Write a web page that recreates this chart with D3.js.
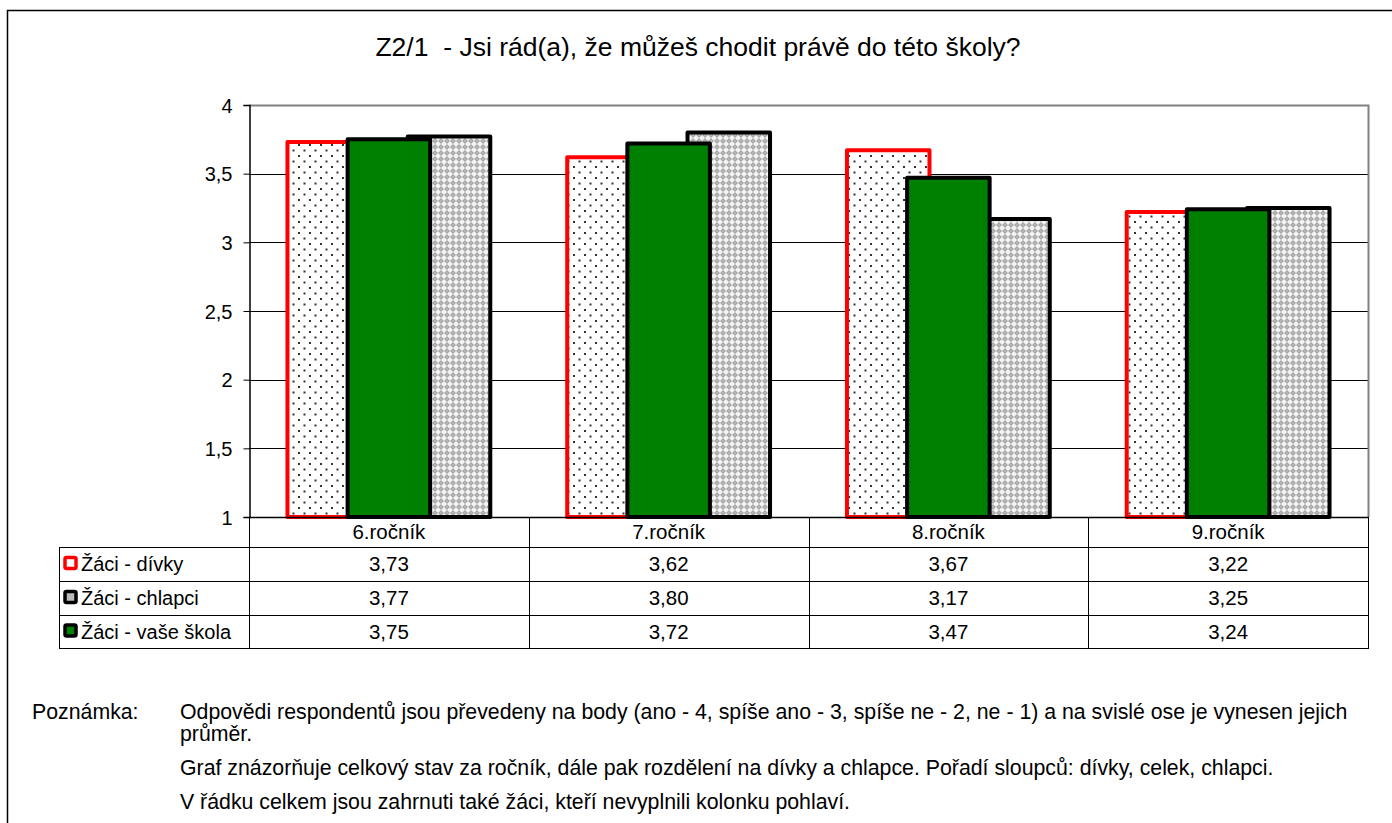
<!DOCTYPE html>
<html lang="cs">
<head>
  <meta charset="UTF-8">
  <title>Z2/1</title>
  <style>
  body { margin: 0; background: #fff; }
  svg text { font-family: Arial, "Liberation Sans", sans-serif; fill: #000; white-space: pre; }
  </style>
</head>
<body>
  <svg id="chart" width="1392" height="823"></svg>
  <script src="https://cdn.jsdelivr.net/npm/d3@7"></script>
  <script>
    // data
    const categories = ['6.ročník', '7.ročník', '8.ročník', '9.ročník'];
    const divky = [3.73, 3.62, 3.67, 3.22];
    const chlapci = [3.77, 3.80, 3.17, 3.25];
    const skola = [3.75, 3.72, 3.47, 3.24];
    const yTicks = [1, 1.5, 2, 2.5, 3, 3.5, 4];
    const title = 'Z2/1  - Jsi rád(a), že můžeš chodit právě do této školy?';

    const series = [
      {name: 'Žáci - dívky', values: divky, slot: 0, fill: 'url(#dots)', stroke: '#ff0000', icon: '#ffffff'},
      {name: 'Žáci - chlapci', values: chlapci, slot: 2, fill: 'url(#hatch)', stroke: '#000', icon: '#bbbbbb'},
      {name: 'Žáci - vaše škola', values: skola, slot: 1, fill: '#008000', stroke: '#000', icon: '#008000'},
    ];

    const svg = d3.select('#chart');
    const comma = v => d3.format('.2f')(v).replace('.', ',');

    // patterns
    const defs = svg.append('defs');
    const dots = defs.append('pattern').attr('id', 'dots')
      .attr('patternUnits', 'userSpaceOnUse').attr('width', 11).attr('height', 11);
    dots.append('rect').attr('width', 11).attr('height', 11).attr('fill', '#fff');
    dots.append('rect').attr('x', 1).attr('y', 1).attr('width', 2).attr('height', 2).attr('fill', '#333');
    dots.append('rect').attr('x', 6.5).attr('y', 6.5).attr('width', 2).attr('height', 2).attr('fill', '#333');

    const hatch = defs.append('pattern').attr('id', 'hatch')
      .attr('patternUnits', 'userSpaceOnUse').attr('width', 6).attr('height', 6);
    hatch.append('rect').attr('width', 6).attr('height', 6).attr('fill', '#f4f4f4');
    hatch.append('path').attr('d', 'M3,0L6,3L3,6L0,3Z').attr('fill', '#a8a8a8');
    hatch.append('rect').attr('x', 2.5).attr('y', 2.5).attr('width', 1).attr('height', 1).attr('fill', '#dcdcdc');

    // outer frame
    svg.append('rect').attr('x', 7.5).attr('y', 10.5).attr('width', 1400).attr('height', 830)
      .attr('fill', 'none').attr('stroke', '#000').attr('stroke-width', 1.5);

    svg.append('text').attr('x', 698).attr('y', 56).attr('text-anchor', 'middle')
      .style('font-size', '26.5px').text(title);

    const plot = {left: 249, right: 1368, top: 105, bottom: 517};
    const x = d3.scaleBand().domain(categories).range([plot.left, plot.right]);
    const y = d3.scaleLinear().domain([1, 4]).range([plot.bottom, plot.top]);
    const bw = x.bandwidth();
    const step = bw * 0.215, barW = bw * 0.295;

    // gridlines
    svg.append('g').selectAll('line').data(yTicks.filter(t => t > 1 && t < 4)).join('line')
      .attr('x1', plot.left).attr('x2', plot.right)
      .attr('y1', d => Math.round(y(d)) + 0.5).attr('y2', d => Math.round(y(d)) + 0.5)
      .attr('stroke', '#000').attr('stroke-width', 1);
    // plot border (top/right gray)
    svg.append('path')
      .attr('d', `M${plot.left},${plot.top + 0.5}H${plot.right + 0.5}V${plot.bottom}`)
      .attr('fill', 'none').attr('stroke', '#808080').attr('stroke-width', 2);

    // bars: red, gray, then green on top
    series.forEach(s => {
      svg.append('g').selectAll('rect').data(s.values).join('rect')
        .attr('x', (d, i) => x(categories[i]) + bw / 2 + (s.slot - 1) * step - barW / 2)
        .attr('y', d => y(d))
        .attr('width', barW)
        .attr('height', d => y(1) - y(d))
        .attr('fill', s.fill)
        .attr('stroke', s.stroke).attr('stroke-width', 4)
        .attr('stroke-linejoin', 'round');
    });

    // y axis
    const yAxis = d3.axisLeft(y).tickValues(yTicks).tickSize(6).tickPadding(11)
      .tickFormat(d => String(d).replace('.', ','));
    const ga = svg.append('g').attr('transform', `translate(${plot.left + 0.5},0)`).call(yAxis);
    ga.select('.domain').attr('stroke', '#000').attr('stroke-width', 1.5);
    ga.selectAll('.tick line').attr('stroke', '#000');
    ga.selectAll('.tick text').style('font-size', '20px').attr('dy', '0.35em')
      .style('font-family', 'Arial, "Liberation Sans", sans-serif');

    // data table
    const rowsY = [517, 547, 581, 615, 648];
    const tableLeft = 59;
    const tbl = svg.append('g').attr('stroke', '#000').attr('stroke-width', 1);
    rowsY.forEach((ry, i) => {
      tbl.append('line').attr('x1', i === 0 ? plot.left : tableLeft).attr('x2', plot.right + 1)
        .attr('y1', ry + 0.5).attr('y2', ry + 0.5)
        .attr('stroke-width', i === 0 ? 1.5 : 1);
    });
    tbl.append('line').attr('x1', tableLeft + 0.5).attr('x2', tableLeft + 0.5)
      .attr('y1', rowsY[1]).attr('y2', rowsY[4] + 0.5);
    categories.forEach(c => {
      tbl.append('line').attr('x1', Math.round(x(c)) + 0.5).attr('x2', Math.round(x(c)) + 0.5)
        .attr('y1', rowsY[0]).attr('y2', rowsY[4] + 0.5);
    });
    tbl.append('line').attr('x1', plot.right + 0.5).attr('x2', plot.right + 0.5)
      .attr('y1', rowsY[0]).attr('y2', rowsY[4] + 0.5);

    // category labels
    svg.append('g').selectAll('text').data(categories).join('text')
      .attr('x', d => x(d) + bw / 2).attr('y', (rowsY[0] + rowsY[1]) / 2 + 7)
      .attr('text-anchor', 'middle').style('font-size', '20.5px').text(d => d);

    // table rows: dívky, chlapci, vaše škola
    series.forEach((s, r) => {
      const cy = (rowsY[r + 1] + rowsY[r + 2]) / 2;
      svg.append('rect').attr('x', 65).attr('y', cy - 6.5).attr('width', 11).attr('height', 11)
        .attr('rx', 1.5).attr('fill', s.icon).attr('stroke', s.stroke)
        .attr('stroke-width', 3.5);
      svg.append('text').attr('x', 81).attr('y', cy + 7).style('font-size', '20px').text(s.name);
      svg.append('g').selectAll('text').data(s.values).join('text')
        .attr('x', (d, i) => x(categories[i]) + bw / 2).attr('y', cy + 7)
        .attr('text-anchor', 'middle').style('font-size', '20.5px').text(d => comma(d));
    });

    // note
    const noteLines = [
      {t: 'Odpovědi respondentů jsou převedeny na body (ano - 4, spíše ano - 3, spíše ne - 2, ne - 1) a na svislé ose je vynesen jejich', y: 719},
      {t: 'průměr.', y: 741},
      {t: 'Graf znázorňuje celkový stav za ročník, dále pak rozdělení na dívky a chlapce. Pořadí sloupců: dívky, celek, chlapci.', y: 775},
      {t: 'V řádku celkem jsou zahrnuti také žáci, kteří nevyplnili kolonku pohlaví.', y: 809},
    ];
    svg.append('text').attr('x', 32).attr('y', 719).style('font-size', '21.3px').text('Poznámka:');
    svg.append('g').selectAll('text').data(noteLines).join('text')
      .attr('x', 180).attr('y', d => d.y).style('font-size', '21.3px').text(d => d.t);
  </script>
</body>
</html>
